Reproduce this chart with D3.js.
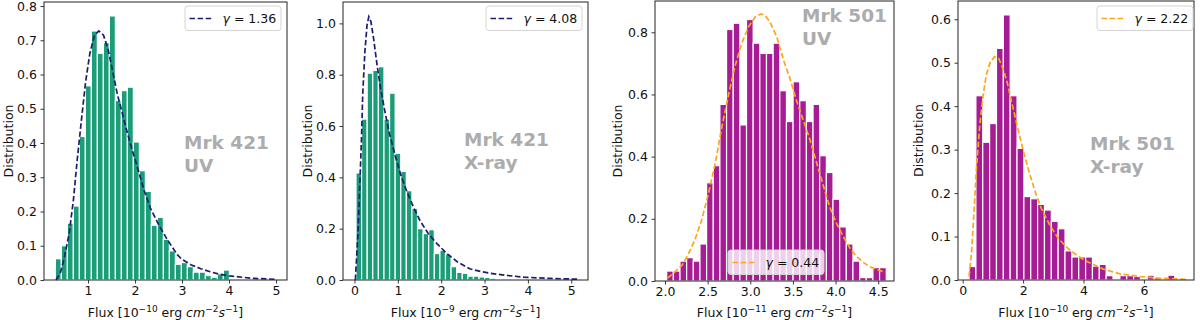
<!DOCTYPE html>
<html>
<head>
<meta charset="utf-8">
<script src="https://cdn.jsdelivr.net/npm/d3@7"></script>
<style>
  body { margin: 0; background: #fff; }
  svg { display: block; font-family: "DejaVu Sans", sans-serif; }
</style>
</head>
<body>
<svg id="chart" width="1200" height="320"></svg>
<script>
// ---- values ----
// Mrk 421 UV
var m421uvBinStart = 0.305, m421uvBinWidth = 0.1277;
var m421uvCounts = [0.062,0.10,0.166,0.216,0.419,0.567,0.727,0.662,0.693,0.771,0.524,0.553,0.563,0.403,0.319,
                    0.259,0.16,0.183,0.119,0.085,0.046,0.051,0.039,0.023,0.023,0.013,0.008,0.018,0.029];
var m421uvFitX = [0.32,0.42,0.50,0.60,0.69,0.77,0.86,0.95,1.04,1.14,1.23,1.33,1.43,1.52,1.62,1.73,1.84,1.94,
                  2.05,2.19,2.33,2.51,2.69,2.90,3.0,3.2,3.4,3.6,3.8,4.0,4.5,5.0];
var m421uvFitY = [0,0.024,0.068,0.136,0.234,0.35,0.467,0.579,0.662,0.715,0.727,0.715,0.672,0.613,0.545,0.487,0.428,0.38,
                  0.33,0.263,0.209,0.16,0.117,0.074,0.06,0.044,0.033,0.024,0.017,0.012,0.005,0.002];

// Mrk 421 X-ray
var m421xBinStart = 0.035, m421xBinWidth = 0.129;
var m421xCounts = [0.417,0.627,0.806,0.817,0.831,0.627,0.728,0.494,0.423,0.348,0.279,0.2,0.181,0.196,0.103,0.116,
                   0.101,0.052,0.03,0.026,0.015,0.015,0.012,0.01,0.007,0,0.005,0.005,0,0,0.005];
var m421xFitX = [0.02,0.08,0.12,0.16,0.19,0.24,0.29,0.33,0.38,0.44,0.52,0.60,0.70,0.81,0.93,1.06,1.20,1.36,1.51,
                 1.70,1.90,2.13,2.37,2.67,2.91,3.14,3.5,3.91,4.53,5.16];
var m421xFitY = [0,0.181,0.361,0.542,0.723,0.89,0.994,1.026,1.006,0.942,0.839,0.748,0.658,0.568,0.49,0.413,0.348,0.284,0.232,
                 0.181,0.142,0.103,0.071,0.043,0.033,0.026,0.018,0.011,0.006,0.003];

// Mrk 501 UV
var m501uvBinStart = 2.02, m501uvBinWidth = 0.078;
var m501uvCounts = [0.032,0.032,0.064,0.075,0.064,0.119,0.316,0.371,0.568,0.809,0.829,0.502,0.841,0.765,0.732,0.732,0.765,
                    0.612,0.513,0.641,0.58,0.513,0.568,0.403,0.349,0.263,0.174,0.119,0.064,0.011,0.011,0.043,0.043];
var m501uvFitX = [2.03,2.12,2.20,2.27,2.35,2.43,2.51,2.59,2.66,2.74,2.82,2.90,2.98,3.06,3.13,3.18,3.23,3.31,3.39,3.47,
                  3.54,3.62,3.70,3.78,3.86,3.93,4.01,4.09,4.17,4.25,4.33,4.40,4.48,4.58];
var m501uvFitY = [0.009,0.03,0.051,0.084,0.132,0.196,0.282,0.379,0.486,0.593,0.69,0.765,0.818,0.85,0.859,0.852,0.834,0.786,
                  0.711,0.647,0.582,0.518,0.454,0.379,0.303,0.239,0.186,0.143,0.105,0.078,0.059,0.046,0.038,0.027];

// Mrk 501 X-ray
var m501xBinStart = 0.21, m501xBinWidth = 0.227;
var m501xCounts = [0.031,0.424,0.317,0.36,0.533,0.61,0.424,0.303,0.192,0.187,0.174,0.161,0.135,0.118,0.067,0.053,
                   0.053,0.053,0.032,0.036,0.010,0,0.010,0.010,0.008,0.002,0.011,0.005,0.002,0.011];
var m501xFitX = [0.21,0.29,0.37,0.46,0.56,0.67,0.78,0.92,1.06,1.19,1.33,1.48,1.63,1.81,2.0,2.18,2.38,2.60,2.88,3.16,
                 3.49,3.82,4.1,4.66,5.21,5.87,6.53,7.42];
var m501xFitY = [0.008,0.061,0.153,0.261,0.353,0.422,0.472,0.503,0.514,0.51,0.487,0.453,0.407,0.353,0.299,0.253,0.207,
                 0.165,0.127,0.096,0.072,0.055,0.043,0.025,0.014,0.008,0.004,0.0015];

var gammas = ["1.36", "4.08", "0.44", "2.22"];
var sources = [["Mrk 421", "UV"], ["Mrk 421", "X-ray"], ["Mrk 501", "UV"], ["Mrk 501", "X-ray"]];
var fluxExp = ["\u221210", "\u22129", "\u221211", "\u221210"];
var xTicks = [[1,2,3,4,5], [0,1,2,3,4,5], [2.0,2.5,3.0,3.5,4.0,4.5], [0,2,4,6]];
var yTicks = [[0,0.1,0.2,0.3,0.4,0.5,0.6,0.7,0.8], [0,0.2,0.4,0.6,0.8,1.0], [0,0.2,0.4,0.6,0.8], [0,0.1,0.2,0.3,0.4,0.5,0.6]];

// ---- layout ----
var green = "#1b9e77", purple = "#a51c95";
var panels = [
  {box:[44,287,2,280],   xd:[0.064,5.234], yd:[0,0.8117], counts:m421uvCounts, b0:m421uvBinStart, bw:m421uvBinWidth,
   fx:m421uvFitX, fy:m421uvFitY, bar:green, line:"#1c1c70", xf:"d", leg:[185,6], txt:[184,149], ylab:13},
  {box:[343,588,2,280],  xd:[-0.265,5.386], yd:[0,1.0833], counts:m421xCounts, b0:m421xBinStart, bw:m421xBinWidth,
   fx:m421xFitX, fy:m421xFitY, bar:green, line:"#1c1c70", xf:"d", leg:[486,6], txt:[464,146], ylab:311.5},
  {box:[655,894,1,281],  xd:[1.883,4.685], yd:[0,0.9006], counts:m501uvCounts, b0:m501uvBinStart, bw:m501uvBinWidth,
   fx:m501uvFitX, fy:m501uvFitY, bar:purple, line:"#ffa51a", xf:".1f", leg:[728,250], txt:[802,22], ylab:621.5},
  {box:[958,1194,1,280], xd:[-0.156,7.659], yd:[0,0.642], counts:m501xCounts, b0:m501xBinStart, bw:m501xBinWidth,
   fx:m501xFitX, fy:m501xFitY, bar:purple, line:"#ffa51a", xf:"d", leg:[1097,6], txt:[1090,150], ylab:923}
];

var svg = d3.select("#chart");
svg.append("rect").attr("width",1200).attr("height",320).attr("fill","#fff");

panels.forEach(function(p, k){
    var left = p.box[0], right = p.box[1], top = p.box[2], bottom = p.box[3];
    var x = d3.scaleLinear().domain(p.xd).range([left, right]);
    var y = d3.scaleLinear().domain(p.yd).range([bottom, top]);
    var g = svg.append("g");

    // histogram bars
    g.selectAll("rect.bar")
        .data(p.counts)
        .enter().append("rect")
        .attr("class","bar")
        .attr("x", function(d,i){ return x(p.b0 + i*p.bw); })
        .attr("width", function(d,i){ return x(p.b0 + (i+1)*p.bw) - x(p.b0 + i*p.bw); })
        .attr("y", function(d){ return y(d); })
        .attr("height", function(d){ return y(0) - y(d); })
        .attr("fill", p.bar)
        .attr("stroke","#fff")
        .attr("stroke-width",1.2);

    // fitted curve
    var pts = p.fx.map(function(v,i){ return [v, p.fy[i]]; });
    g.append("path")
        .datum(pts)
        .attr("d", d3.line().x(function(d){ return x(d[0]); }).y(function(d){ return y(d[1]); }))
        .attr("fill","none")
        .attr("stroke", p.line)
        .attr("stroke-width",1.7)
        .attr("stroke-dasharray","5.5,2.6");

    // axes
    var xa = g.append("g").attr("transform","translate(0,"+bottom+")")
        .call(d3.axisBottom(x).tickValues(xTicks[k]).tickFormat(d3.format(p.xf)).tickSize(3.5).tickSizeOuter(0).tickPadding(3));
    var ya = g.append("g").attr("transform","translate("+left+",0)")
        .call(d3.axisLeft(y).tickValues(yTicks[k]).tickFormat(d3.format(".1f")).tickSize(3.5).tickSizeOuter(0).tickPadding(3.5));
    [xa, ya].forEach(function(a){
        a.select(".domain").remove();
        a.selectAll("line").attr("stroke","#222").attr("stroke-width",0.9);
        a.selectAll("text").attr("font-size","12.5px").attr("font-family","DejaVu Sans").attr("fill","#111");
    });

    // frame
    g.append("rect")
        .attr("x",left).attr("y",top).attr("width",right-left).attr("height",bottom-top)
        .attr("fill","none").attr("stroke","#222").attr("stroke-width",1);

    // y label
    g.append("text")
        .attr("transform","translate("+p.ylab+","+((top+bottom)/2)+") rotate(-90)")
        .attr("text-anchor","middle")
        .attr("font-size","12.5px").attr("fill","#111")
        .text("Distribution");

    // x label
    var xl = g.append("text")
        .attr("x",(left+right)/2).attr("y",317)
        .attr("text-anchor","middle")
        .attr("font-size","12.5px").attr("fill","#111");
    xl.append("tspan").text("Flux [10");
    xl.append("tspan").attr("font-size","9px").attr("dy",-5).text(fluxExp[k]);
    xl.append("tspan").attr("dy",5).text(" erg ");
    xl.append("tspan").attr("font-style","italic").text("cm");
    xl.append("tspan").attr("font-size","9px").attr("dy",-5).text("\u22122");
    xl.append("tspan").attr("dy",5).attr("font-style","italic").text("s");
    xl.append("tspan").attr("font-size","9px").attr("dy",-5).text("\u22121");
    xl.append("tspan").attr("dy",5).text("]");

    // source annotation
    var ann = g.append("text")
        .attr("x",p.txt[0]).attr("y",p.txt[1])
        .attr("font-size","18.5px").attr("font-weight","bold").attr("fill","#acacac");
    ann.append("tspan").attr("x",p.txt[0]).text(sources[k][0]);
    ann.append("tspan").attr("x",p.txt[0]).attr("dy",22.7).text(sources[k][1]);

    // legend
    var lx = p.leg[0], ly = p.leg[1];
    var lg = g.append("g");
    lg.append("rect")
        .attr("x",lx).attr("y",ly).attr("width",96).attr("height",24.5).attr("rx",3)
        .attr("fill","#fff").attr("fill-opacity",0.8)
        .attr("stroke","#d5d5d5").attr("stroke-width",1);
    lg.append("line")
        .attr("x1",lx+4.5).attr("x2",lx+28.5).attr("y1",ly+12.5).attr("y2",ly+12.5)
        .attr("stroke",p.line).attr("stroke-width",1.7).attr("stroke-dasharray","5.5,2.6");
    var lt = lg.append("text").attr("x",lx+37.5).attr("y",ly+16.7).attr("font-size","12.5px").attr("fill","#111");
    lt.append("tspan").attr("font-style","italic").text("\u03b3");
    lt.append("tspan").text(" = " + gammas[k]);
});
</script>
</body>
</html>
